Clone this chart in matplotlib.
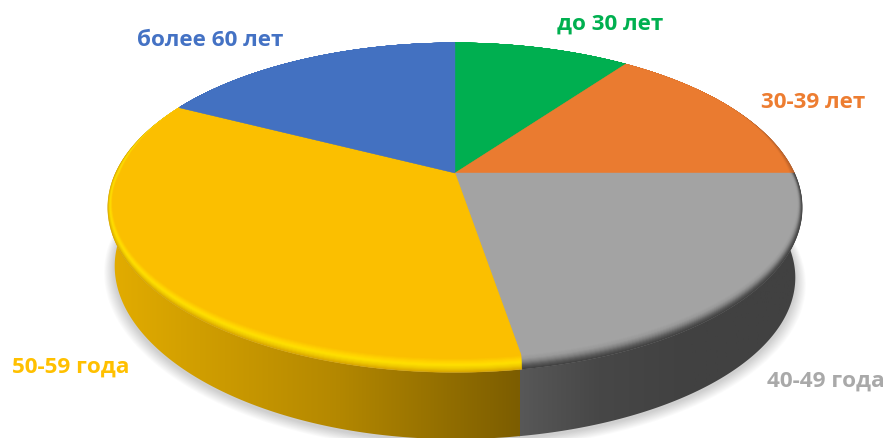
import numpy as np
import matplotlib
matplotlib.use('Agg')
import matplotlib.pyplot as plt
from matplotlib.colors import LinearSegmentedColormap

plt.rcParams['font.family'] = ['Open Sans', 'DejaVu Sans']

# clockwise from 12 o'clock
labels = ['до 30 лет', '30-39 лет', '40-49 года', '50-59 года', 'более 60 лет']
shares = [10, 15, 22.5, 35, 17.5]
colors = ['#00AF50', '#EA7B30', '#A3A3A3', '#FBBF00', '#4371C1']
label_colors = ['#00B050', '#ED7D31', '#A9A9A9', '#FFC000', '#4472C4']
label_pos = [(610, 24), (813, 103), (826, 381), (71, 367), (210, 40)]

# pie is seen in perspective, so apex is not the middle of the ellipse
apex_x, apex_y = 455.0, 173.0
scale_x, scale_y = 339.5, 157.5
persp = 0.21
depth = 70.0
shrink = 0.98
ell_y = 208.0


def rim_point(theta):
    x, y = np.sin(theta), np.cos(theta)
    w = 1 + persp * y
    return apex_x + scale_x * x / w, apex_y - scale_y * y / w


def bottom_point(theta):
    px, py = rim_point(theta)
    # lower edge is pulled up on the left, it is not a clean ellipse there
    lift = 12 * np.clip(-np.sin(theta), 0, 1) ** 2
    return apex_x + (px - apex_x) * shrink, ell_y + (py - ell_y) * shrink + depth - lift


def inset_point(theta, t):
    # bevel only shows on the side turned to the viewer
    px, py = rim_point(theta)
    g = np.clip((0.5 - np.cos(theta)) / 0.5, 0, 1)
    dx = -5 * np.sin(theta) * g
    dy = -14 * np.clip(-np.cos(theta), 0, 1) ** 0.7
    return px + t * dx, py + t * dy


def arc(a, b):
    n = max(int(abs(b - a) * 120), 3)
    return np.linspace(a, b, n)


fig = plt.figure(figsize=(8.89, 4.38), dpi=100)
ax = fig.add_axes([0, 0, 1, 1])

edges = np.cumsum([0] + shares) / sum(shares) * 2 * np.pi

# soft shadow under the wall
all_t = arc(0, 2 * np.pi)
bx, by = bottom_point(all_t)
for i in range(12):
    grow = 1 + (12 - i) * 0.0026
    sx = apex_x + (bx - apex_x) * grow
    sy = ell_y + depth + (by - ell_y - depth) * grow + 2 + (12 - i) * 0.4
    ax.fill(sx, sy, color='black', alpha=0.016, lw=0, zorder=1)

# walls
wall_maps = {
    2: LinearSegmentedColormap.from_list('w_gray', [(0, '#585858'), (0.28, '#474747'), (0.6, '#414141'), (1, '#414141')]),
    3: LinearSegmentedColormap.from_list('w_yel', [(0, '#E2AC00'), (0.55, '#B48800'), (1, '#7C5D00')]),
}
wall_span = {2: (519, 802), 3: (112, 520)}
wall_solid = {0: '#006B30', 1: '#9A4F1C', 4: '#2B4A80'}
pad = 0.006
for i in [4, 0, 1, 2, 3]:
    t = arc(edges[i] - pad, edges[i + 1] + pad)
    tx, ty = rim_point(t)
    qx, qy = bottom_point(t[::-1])
    poly_x = np.r_[tx, qx]
    poly_y = np.r_[ty, qy]
    if i in wall_maps:
        patch = ax.fill(poly_x, poly_y, color='none', lw=0, zorder=2 + i * 0.01)[0]
        x0, x1 = wall_span[i]
        grad = np.linspace(0, 1, 256)[None, :]
        im = ax.imshow(grad, cmap=wall_maps[i], extent=(x0, x1, 440, 100),
                       aspect='auto', zorder=2 + i * 0.01, vmin=0, vmax=1)
        im.set_clip_path(patch)
    else:
        ax.fill(poly_x, poly_y, color=wall_solid[i], lw=0, zorder=2)

# top face with bevel strips, outer to inner
rim_colors = {
    0: ['#00AF50', '#00AF50'],
    1: ['#B5602A', '#EA7B30'],
    2: ['#414141', '#5A5A5A', '#808080', '#9A9A9A', '#A3A3A3'],
    3: ['#D9A600', '#F0CA00', '#FFE000', '#FFD000', '#FBBF00'],
    4: ['#4371C1', '#4371C1'],
}
levels = np.linspace(0, 1, 14)
for i in range(5):
    t = arc(edges[i], edges[i + 1])
    cmap = LinearSegmentedColormap.from_list('rim%d' % i, rim_colors[i])
    for lev in levels:
        tx, ty = inset_point(t, lev)
        ax.fill(np.r_[apex_x, tx], np.r_[apex_y, ty], color=cmap(lev),
                lw=0.3, ec=cmap(lev), zorder=3 + lev)

for name, col, pos in zip(labels, label_colors, label_pos):
    ax.text(pos[0], pos[1], name, color=col, fontsize=16.2, fontweight='bold',
            ha='center', va='center', zorder=6)

ax.set_xlim(0, 889)
ax.set_ylim(438, 0)
ax.axis('off')

fig.savefig('out.png', dpi=100)
